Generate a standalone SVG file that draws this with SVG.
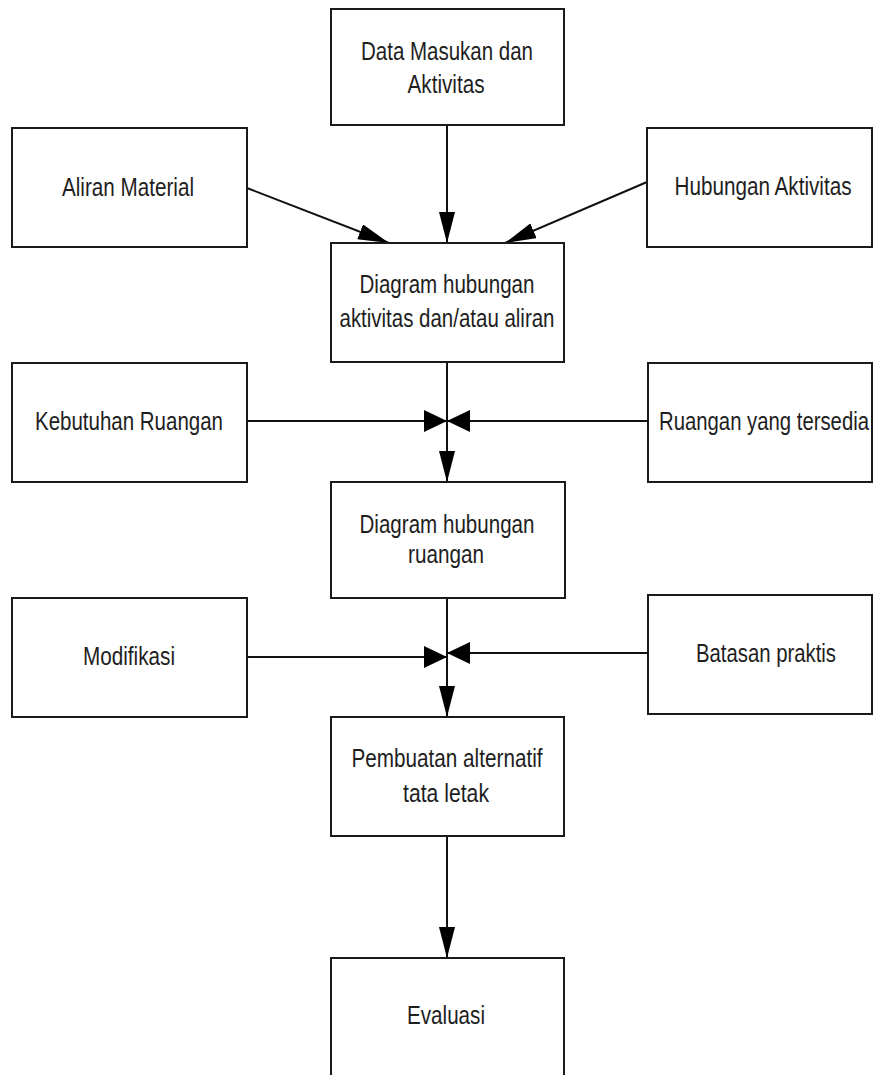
<svg xmlns="http://www.w3.org/2000/svg" width="873" height="1075" viewBox="0 0 873 1075">
<style>
.box{fill:#fff;stroke:#1a1a1a;stroke-width:2}
.t{font-family:"Liberation Sans Narrow","Liberation Sans",Arial,sans-serif;font-size:26.5px;fill:#1e1e1e;text-anchor:middle}
.c{stroke:#111;stroke-width:2;fill:none}
</style>
<defs>
<marker id="ah" markerUnits="userSpaceOnUse" markerWidth="32" markerHeight="16" refX="31" refY="8" orient="auto">
<path d="M0,0 L31,8 L0,16 z" fill="#000"/>
</marker>
<marker id="aj" markerUnits="userSpaceOnUse" markerWidth="24" markerHeight="22" refX="23" refY="11" orient="auto">
<path d="M0,0 L23,11 L0,22 z" fill="#000"/>
</marker>
</defs>
<rect width="873" height="1075" fill="#fff"/>
<g id="connectors">
<line class="c" x1="447" y1="125" x2="447" y2="243" marker-end="url(#ah)"/>
<line class="c" x1="247" y1="188" x2="389" y2="243" marker-end="url(#ah)"/>
<line class="c" x1="647" y1="182" x2="505" y2="243" marker-end="url(#ah)"/>
<line class="c" x1="447" y1="362" x2="447" y2="482" marker-end="url(#ah)"/>
<line class="c" x1="247" y1="421" x2="447" y2="421" marker-end="url(#aj)"/>
<line class="c" x1="648" y1="421" x2="447" y2="421" marker-end="url(#aj)"/>
<line class="c" x1="447" y1="598" x2="447" y2="717" marker-end="url(#ah)"/>
<line class="c" x1="247" y1="657" x2="447" y2="657" marker-end="url(#aj)"/>
<line class="c" x1="648" y1="653" x2="447" y2="653" marker-end="url(#aj)"/>
<line class="c" x1="447" y1="836" x2="447" y2="958" marker-end="url(#ah)"/>
</g>
<g id="n1"><rect class="box" x="331" y="9" width="233" height="116"/>
<text class="t" x="447" y="60" textLength="172" lengthAdjust="spacingAndGlyphs">Data Masukan dan</text>
<text class="t" x="446" y="93" textLength="77" lengthAdjust="spacingAndGlyphs">Aktivitas</text></g>
<g id="n2"><rect class="box" x="12" y="128" width="235" height="119"/>
<text class="t" x="128" y="196" textLength="132" lengthAdjust="spacingAndGlyphs">Aliran Material</text></g>
<g id="n3"><rect class="box" x="647" y="128" width="225" height="119"/>
<text class="t" x="763" y="195" textLength="177" lengthAdjust="spacingAndGlyphs">Hubungan Aktivitas</text></g>
<g id="n4"><rect class="box" x="331" y="243" width="233" height="119"/>
<text class="t" x="447" y="293" textLength="175" lengthAdjust="spacingAndGlyphs">Diagram hubungan</text>
<text class="t" x="447" y="327" textLength="215" lengthAdjust="spacingAndGlyphs">aktivitas dan/atau aliran</text></g>
<g id="n5"><rect class="box" x="12" y="363" width="235" height="119"/>
<text class="t" x="129" y="430" textLength="188" lengthAdjust="spacingAndGlyphs">Kebutuhan Ruangan</text></g>
<g id="n6"><rect class="box" x="648" y="363" width="224" height="119"/>
<text class="t" x="764" y="430" textLength="210" lengthAdjust="spacingAndGlyphs">Ruangan yang tersedia</text></g>
<g id="n7"><rect class="box" x="331" y="482" width="234" height="116"/>
<text class="t" x="447" y="533" textLength="175" lengthAdjust="spacingAndGlyphs">Diagram hubungan</text>
<text class="t" x="446" y="563" textLength="76" lengthAdjust="spacingAndGlyphs">ruangan</text></g>
<g id="n8"><rect class="box" x="12" y="598" width="235" height="119"/>
<text class="t" x="129" y="665" textLength="92" lengthAdjust="spacingAndGlyphs">Modifikasi</text></g>
<g id="n9"><rect class="box" x="648" y="595" width="224" height="119"/>
<text class="t" x="766" y="662" textLength="140" lengthAdjust="spacingAndGlyphs">Batasan praktis</text></g>
<g id="n10"><rect class="box" x="331" y="717" width="233" height="119"/>
<text class="t" x="447" y="767" textLength="191" lengthAdjust="spacingAndGlyphs">Pembuatan alternatif</text>
<text class="t" x="446" y="802" textLength="86" lengthAdjust="spacingAndGlyphs">tata letak</text></g>
<g id="n11"><rect class="box" x="331" y="958" width="233" height="130"/>
<text class="t" x="446" y="1024" textLength="78" lengthAdjust="spacingAndGlyphs">Evaluasi</text></g>
</svg>
